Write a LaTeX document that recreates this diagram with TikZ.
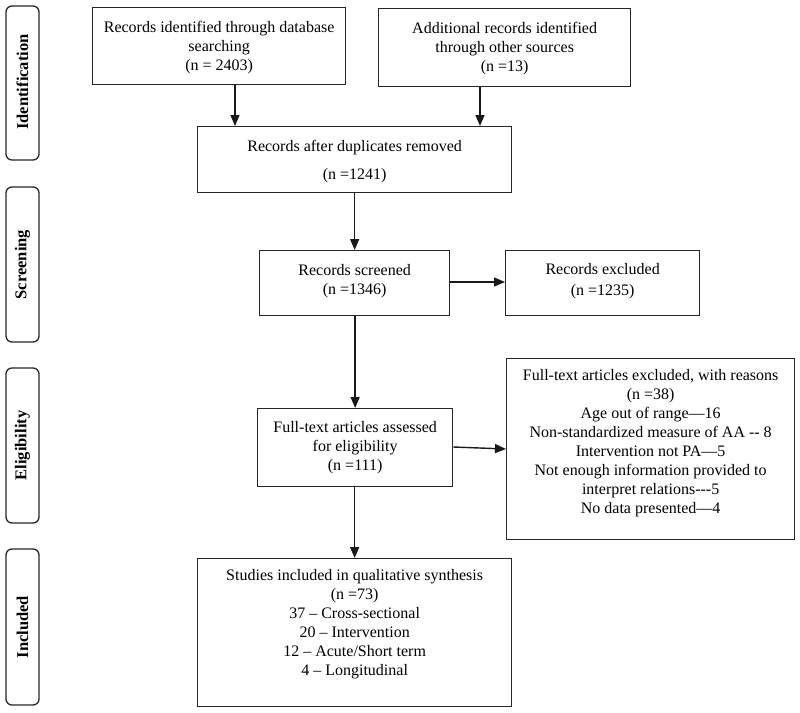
\documentclass[tikz,border=0pt]{standalone}
\usepackage{fontspec}
\setmainfont{Liberation Serif}
\usetikzlibrary{arrows.meta,calc}
\begin{document}
\begin{tikzpicture}[x=1pt,y=-1pt,
  every node/.style={font=\fontsize{16}{19}\selectfont},
  box/.style={draw=black!85, line width=1.3pt, rectangle, inner sep=0pt, anchor=north west},
  side/.style={draw=black!85, line width=1.3pt, rounded corners=6pt},
  sidetxt/.style={rotate=90, font=\fontsize{16.5}{19}\selectfont\bfseries},
  txt/.style={align=center, inner sep=0pt},
  arr/.style={line width=1.4pt, draw=black!90, -{Triangle[length=11pt,width=9pt]}}]
\useasboundingbox (0,0) rectangle (800,712);
% side bars
\draw[side] (6,6) rectangle (39,160);
\draw[side] (6,187) rectangle (39,342);
\draw[side] (6,368) rectangle (39,523);
\draw[side] (6,549) rectangle (39,705);
\node[sidetxt] (sid) at (22.5,82) {Identification};
\node[sidetxt] (ssc) at (22.5,264.5) {Screening};
\node[sidetxt] (sel) at (22.5,445.5) {Eligibility};
\node[sidetxt] (sin) at (22.5,627) {Included};
% boxes
\node[box, minimum width=253pt, minimum height=77pt] (b1) at (92,7) {};
\node[txt] (t1) at ($(b1.center)+(0,1)$) {Records identified through database\\searching\\(n = 2403)};
\node[box, minimum width=252pt, minimum height=78pt] (b2) at (378,8) {};
\node[txt] (t2) at ($(b2.center)+(0,1)$) {Additional records identified\\through other sources\\(n =13)};
\node[box, minimum width=314pt, minimum height=66pt] (b3) at (197,126) {};
\node[txt, font=\fontsize{16}{28}\selectfont] (t3) at ($(b3.center)+(0,2)$) {Records after duplicates removed\\(n =1241)};
\node[box, minimum width=190pt, minimum height=65pt] (b4) at (259,250) {};
\node[txt] (t4) at ($(b4.center)+(0,-2)$) {Records screened\\(n =1346)};
\node[box, minimum width=194pt, minimum height=65pt] (b5) at (505,250) {};
\node[txt, font=\fontsize{16}{21}\selectfont] (t5) at ($(b5.center)+(0,-2)$) {Records excluded\\(n =1235)};
\node[box, minimum width=195pt, minimum height=78pt] (b6) at (257,408) {};
\node[txt] (t6) at (b6.center) {Full-text articles assessed\\for eligibility\\(n =111)};
\node[box, minimum width=288pt, minimum height=181pt] (b7) at (506,358) {};
\node[txt] (t7) at ($(b7.center)+(0,-6)$) {Full-text articles excluded, with reasons\\(n =38)\\Age out of range---16\\Non-standardized measure of AA -{}- 8\\Intervention not PA---5\\Not enough information provided to\\interpret relations-{}-{}-5\\No data presented---4};
\node[box, minimum width=314pt, minimum height=148pt] (b8) at (197,558) {};
\node[txt] (t8) at ($(b8.center)+(0,-8)$) {Studies included in qualitative synthesis\\(n =73)\\37 -- Cross-sectional\\20 -- Intervention\\12 -- Acute/Short term\\4 -- Longitudinal};
% arrows
\draw[arr] (b1.south -| 235,0) -- (b3.north -| 235,0);
\draw[arr] (b2.south -| 480,0) -- (b3.north -| 480,0);
\draw[arr] (b3.south -| b4.north) -- (b4.north);
\draw[arr] (b4.east |- 0,282) -- (b5.west |- 0,282);
\draw[arr] (b4.south -| b6.north) -- (b6.north);
\draw[arr] (b6.east |- 0,447) -- (b7.west |- 0,449);
\draw[arr] (b6.south -| b8.north) -- (b8.north);
\end{tikzpicture}
\end{document}
